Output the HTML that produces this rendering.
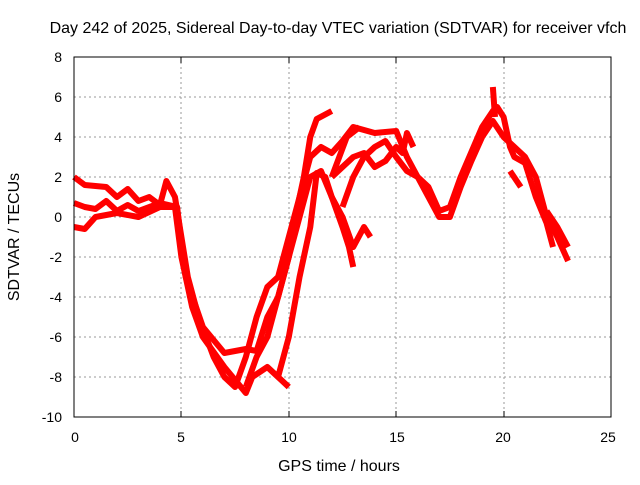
<!DOCTYPE html>
<html><head><meta charset="utf-8"><style>
body{margin:0;background:#fff}
svg text{font-family:"Liberation Sans",sans-serif;font-size:14px;fill:#000}
svg text.big{font-size:16px}
</style></head><body>
<svg width="640" height="480" xmlns="http://www.w3.org/2000/svg">
<rect width="640" height="480" fill="#fff"/>
<g stroke="#999" stroke-width="1" stroke-dasharray="2,3">
<line x1="181" y1="57" x2="181" y2="417"/><line x1="289" y1="57" x2="289" y2="417"/>
<line x1="396" y1="57" x2="396" y2="417"/><line x1="504" y1="57" x2="504" y2="417"/>
<line x1="74" y1="97" x2="611" y2="97"/><line x1="74" y1="137" x2="611" y2="137"/>
<line x1="74" y1="177" x2="611" y2="177"/><line x1="74" y1="217" x2="611" y2="217"/>
<line x1="74" y1="257" x2="611" y2="257"/><line x1="74" y1="297" x2="611" y2="297"/>
<line x1="74" y1="337" x2="611" y2="337"/><line x1="74" y1="377" x2="611" y2="377"/>
</g>
<g fill="none" stroke="#f00" stroke-width="6" stroke-linejoin="round" transform="translate(74,217) scale(21.48,-20)">
<polyline vector-effect="non-scaling-stroke" points="0,2 0.5,1.6 1.5,1.5 2,1 2.5,1.4 3,0.8 3.5,1 4,0.6 4.3,1.8 4.7,1 5,-1 5.3,-3 5.8,-5 6.5,-7 7,-8 7.5,-8.5 8,-7 8.5,-5 9,-3.5 9.5,-3 10,-1 10.5,1 11,3 11.5,3.5 12,3.2 12.5,3.8 13,4.5 14,4.2 15,4.3 15.5,3 16,2 16.5,1 17,0 17.5,0 18,1.5 18.5,2.8 19,4 19.5,4.8 20,4 20.5,3.5 21,3 21.5,2 22,0 22.5,-1 23,-2.2"/>
<polyline vector-effect="non-scaling-stroke" points="0,-0.5 0.5,-0.6 1,0 2,0.2 3,0 4,0.5 4.7,0.5 5,-2 5.5,-4.5 6,-6 7,-7.5 8,-8.8 8.3,-8 9,-7.5 9.5,-8 10,-8.5"/>
<polyline vector-effect="non-scaling-stroke" points="9.5,-8 10,-6 10.5,-3 11,-0.5 11.3,2.2 11.7,2 12,1 12.5,0 13,-1.5 13.5,-0.5 13.8,-1"/>
<polyline vector-effect="non-scaling-stroke" points="0,0.7 0.5,0.5 1,0.4 1.5,0.8 2,0.3 2.5,0.6 3,0.3 4,0.7 4.8,0.5 5.2,-3 6,-5.5 7,-6.8 8,-6.6 8.5,-6.7 9,-5 9.5,-4 10,-2 10.5,0 11,2 11.5,2.3 12,1 12.5,-0.5 12.8,-1.5 13,-2.5"/>
<polyline vector-effect="non-scaling-stroke" points="8,-8.5 8.5,-7 9,-6 9.5,-4 10,-2 10.3,0 10.7,2 11,4 11.3,4.9 12,5.3"/>
<polyline vector-effect="non-scaling-stroke" points="12,2 12.5,2.5 13,3 13.5,3.2 14,2.5 14.5,2.8 15,3.5 15.3,3.2 15.5,4.2 15.8,3.5"/>
<polyline vector-effect="non-scaling-stroke" points="12.5,0.5 13,2 13.5,3 14,3.5 14.5,3.8 15,3 15.5,2.3 16,2 16.5,1.5 17,0.3 17.5,0.5 18,2 19,4.5 19.5,5.3 19.7,5.5 20,5 20.3,3.5 20.5,3 21,2.7 21.5,1 22,-0.3 22.3,-1.5"/>
<polyline vector-effect="non-scaling-stroke" points="19.5,6.5 19.6,5"/>
<polyline vector-effect="non-scaling-stroke" points="20.3,2.3 20.8,1.5"/>
<polyline vector-effect="non-scaling-stroke" points="22,0.3 22.5,-0.5 23,-1.5"/>
<polyline vector-effect="non-scaling-stroke" points="12,2 12.7,4 13.3,4.5"/>
</g>
<rect x="74" y="57" width="537" height="360" fill="none" stroke="#000" stroke-width="1"/>
<g stroke="#000">
<line x1="181" y1="417" x2="181" y2="411"/><line x1="289" y1="417" x2="289" y2="411"/><line x1="396" y1="417" x2="396" y2="411"/><line x1="504" y1="417" x2="504" y2="411"/>
<line x1="181" y1="57" x2="181" y2="63"/><line x1="289" y1="57" x2="289" y2="63"/><line x1="396" y1="57" x2="396" y2="63"/><line x1="504" y1="57" x2="504" y2="63"/>
</g>
<g text-anchor="end">
<text x="62" y="62">8</text><text x="62" y="102">6</text><text x="62" y="142">4</text><text x="62" y="182">2</text><text x="62" y="222">0</text><text x="62" y="262">-2</text><text x="62" y="302">-4</text><text x="62" y="342">-6</text><text x="62" y="382">-8</text><text x="62" y="422">-10</text>
</g>
<g text-anchor="middle">
<text x="75" y="442">0</text><text x="181" y="442">5</text><text x="289" y="442">10</text><text x="397" y="442">15</text><text x="503" y="442">20</text><text x="608" y="442">25</text>
<text class="big" x="339" y="471">GPS time / hours</text>
<text class="big" x="338" y="33">Day 242 of 2025, Sidereal Day-to-day VTEC variation (SDTVAR) for receiver vfch</text>
<text class="big" transform="translate(19,237) rotate(-90)">SDTVAR / TECUs</text>
</g>
</svg>
</body></html>
